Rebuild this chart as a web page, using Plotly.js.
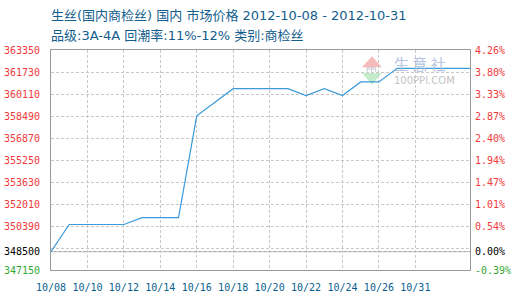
<!DOCTYPE html>
<html>
<head>
<meta charset="utf-8">
<script src="https://cdn.plot.ly/plotly-3.0.1.min.js"></script>
<style>
  html, body { margin: 0; padding: 0; background: #fff; }
  #chart { width: 520px; height: 300px; }
</style>
</head>
<body>
<div id="chart"></div>
<script>
// Daily market price of raw silk (domestic, inspected), 2012-10-08 .. 2012-10-31
const dates = ['10/08','10/09','10/10','10/11','10/12','10/13','10/14','10/15',
               '10/16','10/17','10/18','10/19','10/20','10/21','10/22','10/23',
               '10/24','10/25','10/26','10/27','10/28','10/29','10/30','10/31'];
const prices = [348500, 350500, 350500, 350500, 350500, 351000, 351000, 351000,
                358500, 359500, 360500, 360500, 360500, 360500, 360000, 360500,
                360000, 361000, 361000, 362000, 362000, 362000, 362000, 362000];
const tickLabels = ['10/08','10/10','10/12','10/14','10/16','10/18','10/20',
                    '10/22','10/24','10/26','10/31'];
const basePrice = 348500;
const axisMin = 347150;
const axisMax = 363350;
const gridStep = 1620;

const titleLine1 = '生丝(国内商检丝) 国内 市场价格 2012-10-08 - 2012-10-31';
const titleLine2 = '品级:3A-4A 回潮率:11%-12% 类别:商检丝';

// price grid from the top of the axis downwards
const gridVals = [];
for (let v = axisMax; v > basePrice; v -= gridStep) gridVals.push(v);

const RED = '#f03a3a', GREEN = '#33aa33', BLACK = '#000';
const colored = (t, c) => '<span style="color:' + c + '">' + t + '</span>';
const pct = v => ((v - basePrice) / basePrice * 100).toFixed(2) + '%';

const lastGrid = gridVals[gridVals.length - 1];
const yTickVals = gridVals.concat([basePrice, axisMin]);
const leftText = gridVals.map(v => v === lastGrid ? '' : colored(String(v), RED))
  .concat([colored(String(basePrice), BLACK), colored(String(axisMin), GREEN)]);
const rightText = gridVals.map(v => v === lastGrid ? '' : colored(pct(v), RED))
  .concat([colored(pct(basePrice), BLACK), colored(pct(axisMin), GREEN)]);

const xTickVals = dates.filter((d, i) => i % 2 === 0).slice(0, tickLabels.length);

const tickFont = { family: 'DejaVu Sans Mono, monospace', size: 10 };
const titleFont = { family: 'DejaVu Sans, Noto Sans CJK SC, sans-serif', size: 13, color: '#135d8c' };

const traces = [
  {
    x: dates, y: prices, type: 'scatter', mode: 'lines',
    line: { color: '#3b9bdb', width: 1.2 },
    hoverinfo: 'x+y'
  },
  {
    x: dates, y: prices, type: 'scatter', mode: 'lines', yaxis: 'y2',
    line: { color: 'rgba(0,0,0,0)', width: 0 },
    hoverinfo: 'skip', showlegend: false
  }
];

const layout = {
  width: 520, height: 300,
  margin: { l: 51, r: 50, t: 50, b: 30 },
  paper_bgcolor: '#fff', plot_bgcolor: '#fff',
  showlegend: false,
  xaxis: {
    type: 'category', range: [0, dates.length - 1],
    tickvals: xTickVals, ticktext: tickLabels,
    tickfont: Object.assign({ color: '#0b5f8f' }, tickFont),
    ticks: 'outside', ticklen: 8, tickcolor: 'rgba(0,0,0,0)',
    showgrid: true, gridcolor: '#c8c8c8', griddash: '3px,2px', gridwidth: 1,
    showline: true, linecolor: '#999', linewidth: 1, mirror: true,
    zeroline: false, fixedrange: true
  },
  yaxis: {
    range: [axisMin, axisMax],
    tickvals: yTickVals, ticktext: leftText,
    tickfont: tickFont,
    ticks: 'outside', ticklen: 8, tickcolor: 'rgba(0,0,0,0)',
    showgrid: true, gridcolor: '#c8c8c8', griddash: '3px,2px', gridwidth: 1,
    showline: true, linecolor: '#999', linewidth: 1, mirror: true,
    zeroline: false, fixedrange: true
  },
  yaxis2: {
    overlaying: 'y', side: 'right',
    range: [axisMin, axisMax],
    tickvals: yTickVals, ticktext: rightText,
    tickfont: tickFont,
    ticks: 'outside', ticklen: 2, tickcolor: 'rgba(0,0,0,0)',
    showgrid: false, showline: false, zeroline: false, fixedrange: true
  },
  shapes: [
    // solid base-price line
    { type: 'line', xref: 'paper', x0: 0, x1: 1, yref: 'y', y0: basePrice, y1: basePrice,
      line: { color: '#999', width: 1 }, layer: 'below' },
    // logo triangles
    { type: 'path', xref: 'paper', yref: 'paper', layer: 'below',
      path: 'M 0.742 0.922 L 0.790 0.922 L 0.766 0.972 Z',
      fillcolor: '#f6bcbc', line: { width: 0 } },
    { type: 'path', xref: 'paper', yref: 'paper', layer: 'below',
      path: 'M 0.742 0.895 L 0.790 0.895 L 0.766 0.842 Z',
      fillcolor: '#c4ecca', line: { width: 0 } }
  ],
  annotations: [
    { text: titleLine1, xref: 'paper', yref: 'paper', x: 0, y: 1, xanchor: 'left', yanchor: 'middle',
      xshift: -2, yshift: 35, showarrow: false, font: titleFont },
    { text: titleLine2, xref: 'paper', yref: 'paper', x: 0, y: 1, xanchor: 'left', yanchor: 'middle',
      xshift: -2, yshift: 15, showarrow: false, font: titleFont },
    { text: 'PPI', xref: 'paper', yref: 'paper', x: 0.766, y: 0.908, xanchor: 'center', yanchor: 'middle',
      showarrow: false, font: { family: 'DejaVu Sans, sans-serif', size: 7, color: '#b8b8c8' } },
    { text: '生 意 社', xref: 'paper', yref: 'paper', x: 0.815, y: 0.94, xanchor: 'left', yanchor: 'middle',
      showarrow: false, font: { family: 'Noto Sans CJK SC, sans-serif', size: 15, color: '#b6c3de' } },
    { text: '100PPI.COM', xref: 'paper', yref: 'paper', x: 0.815, y: 0.862, xanchor: 'left', yanchor: 'middle',
      showarrow: false, font: { family: 'DejaVu Sans, sans-serif', size: 10, color: '#c4c4c4' } }
  ]
};

Plotly.newPlot('chart', traces, layout, { displayModeBar: false, staticPlot: true });
</script>
</body>
</html>
